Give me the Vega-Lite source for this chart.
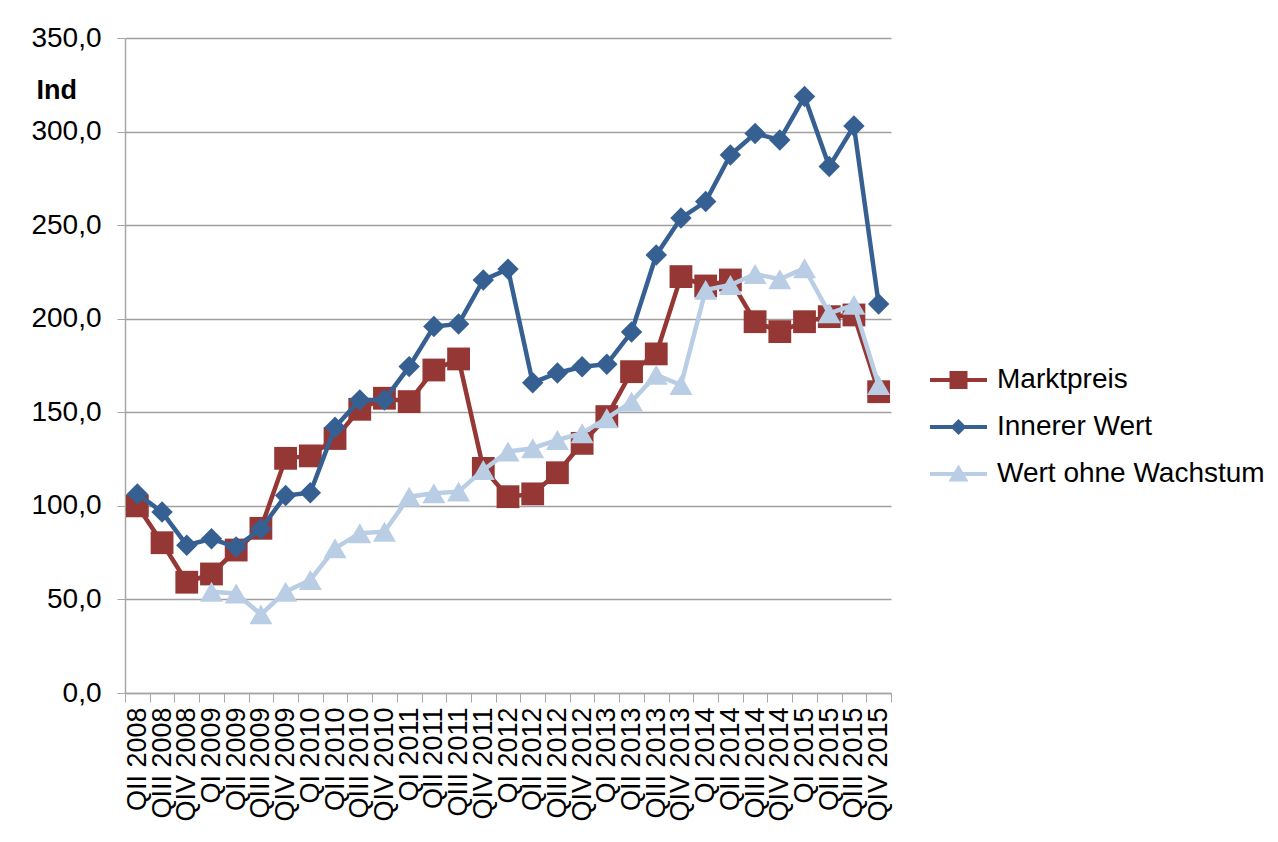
{
  "$schema": "https://vega.github.io/schema/vega-lite/v6.json",
  "width": 766,
  "height": 655,
  "autosize": "none",
  "padding": {"left": 125, "top": 38, "right": 387, "bottom": 149},
  "background": "white",
  "config": {
    "view": {"stroke": null},
    "font": "Liberation Sans",
    "legend": {
      "orient": "none",
      "legendX": 838,
      "legendY": 328,
      "padding": 0,
      "labelFont": "Liberation Sans",
      "labelFontSize": 28,
      "labelColor": "#000000",
      "labelOffset": 6,
      "labelLimit": 0,
      "symbolSize": 400,
      "rowPadding": 19
    }
  },
  "data": {
    "values": [
      {"q": "QII 2008", "s": "Marktpreis", "v": 100},
      {"q": "QIII 2008", "s": "Marktpreis", "v": 80.3},
      {"q": "QIV 2008", "s": "Marktpreis", "v": 59.2},
      {"q": "QI 2009", "s": "Marktpreis", "v": 63.6},
      {"q": "QII 2009", "s": "Marktpreis", "v": 76.4},
      {"q": "QIII 2009", "s": "Marktpreis", "v": 88},
      {"q": "QIV 2009", "s": "Marktpreis", "v": 125.4},
      {"q": "QI 2010", "s": "Marktpreis", "v": 126.7},
      {"q": "QII 2010", "s": "Marktpreis", "v": 136},
      {"q": "QIII 2010", "s": "Marktpreis", "v": 151.6},
      {"q": "QIV 2010", "s": "Marktpreis", "v": 157.5},
      {"q": "QI 2011", "s": "Marktpreis", "v": 155.7},
      {"q": "QII 2011", "s": "Marktpreis", "v": 172.6},
      {"q": "QIII 2011", "s": "Marktpreis", "v": 178.5},
      {"q": "QIV 2011", "s": "Marktpreis", "v": 120},
      {"q": "QI 2012", "s": "Marktpreis", "v": 104.9},
      {"q": "QII 2012", "s": "Marktpreis", "v": 106.4},
      {"q": "QIII 2012", "s": "Marktpreis", "v": 117.7},
      {"q": "QIV 2012", "s": "Marktpreis", "v": 133.4},
      {"q": "QI 2013", "s": "Marktpreis", "v": 147.7},
      {"q": "QII 2013", "s": "Marktpreis", "v": 171.7},
      {"q": "QIII 2013", "s": "Marktpreis", "v": 181.2},
      {"q": "QIV 2013", "s": "Marktpreis", "v": 222.5},
      {"q": "QI 2014", "s": "Marktpreis", "v": 217.5},
      {"q": "QII 2014", "s": "Marktpreis", "v": 220.7},
      {"q": "QIII 2014", "s": "Marktpreis", "v": 198.4},
      {"q": "QIV 2014", "s": "Marktpreis", "v": 193.1},
      {"q": "QI 2015", "s": "Marktpreis", "v": 198.4},
      {"q": "QII 2015", "s": "Marktpreis", "v": 201.1},
      {"q": "QIII 2015", "s": "Marktpreis", "v": 202},
      {"q": "QIV 2015", "s": "Marktpreis", "v": 161},
      {"q": "QII 2008", "s": "Innerer Wert", "v": 106.4},
      {"q": "QIII 2008", "s": "Innerer Wert", "v": 96.7},
      {"q": "QIV 2008", "s": "Innerer Wert", "v": 79},
      {"q": "QI 2009", "s": "Innerer Wert", "v": 82.4},
      {"q": "QII 2009", "s": "Innerer Wert", "v": 78},
      {"q": "QIII 2009", "s": "Innerer Wert", "v": 87.7},
      {"q": "QIV 2009", "s": "Innerer Wert", "v": 105.5},
      {"q": "QI 2010", "s": "Innerer Wert", "v": 107},
      {"q": "QII 2010", "s": "Innerer Wert", "v": 142},
      {"q": "QIII 2010", "s": "Innerer Wert", "v": 156.6},
      {"q": "QIV 2010", "s": "Innerer Wert", "v": 156.6},
      {"q": "QI 2011", "s": "Innerer Wert", "v": 174.4},
      {"q": "QII 2011", "s": "Innerer Wert", "v": 195.8},
      {"q": "QIII 2011", "s": "Innerer Wert", "v": 197.2},
      {"q": "QIV 2011", "s": "Innerer Wert", "v": 220.7},
      {"q": "QI 2012", "s": "Innerer Wert", "v": 226.5},
      {"q": "QII 2012", "s": "Innerer Wert", "v": 165.8},
      {"q": "QIII 2012", "s": "Innerer Wert", "v": 171},
      {"q": "QIV 2012", "s": "Innerer Wert", "v": 174.3},
      {"q": "QI 2013", "s": "Innerer Wert", "v": 175.7},
      {"q": "QII 2013", "s": "Innerer Wert", "v": 192.9},
      {"q": "QIII 2013", "s": "Innerer Wert", "v": 234},
      {"q": "QIV 2013", "s": "Innerer Wert", "v": 253.8},
      {"q": "QI 2014", "s": "Innerer Wert", "v": 262.6},
      {"q": "QII 2014", "s": "Innerer Wert", "v": 287.5},
      {"q": "QIII 2014", "s": "Innerer Wert", "v": 299},
      {"q": "QIV 2014", "s": "Innerer Wert", "v": 295.5},
      {"q": "QI 2015", "s": "Innerer Wert", "v": 318.7},
      {"q": "QII 2015", "s": "Innerer Wert", "v": 281.3},
      {"q": "QIII 2015", "s": "Innerer Wert", "v": 303},
      {"q": "QIV 2015", "s": "Innerer Wert", "v": 207.9},
      {"q": "QI 2009", "s": "Wert ohne Wachstum", "v": 54.1},
      {"q": "QII 2009", "s": "Wert ohne Wachstum", "v": 53.2},
      {"q": "QIII 2009", "s": "Wert ohne Wachstum", "v": 42},
      {"q": "QIV 2009", "s": "Wert ohne Wachstum", "v": 54.1},
      {"q": "QI 2010", "s": "Wert ohne Wachstum", "v": 60.4},
      {"q": "QII 2010", "s": "Wert ohne Wachstum", "v": 77.3},
      {"q": "QIII 2010", "s": "Wert ohne Wachstum", "v": 85.4},
      {"q": "QIV 2010", "s": "Wert ohne Wachstum", "v": 86.2},
      {"q": "QI 2011", "s": "Wert ohne Wachstum", "v": 104.9},
      {"q": "QII 2011", "s": "Wert ohne Wachstum", "v": 106.7},
      {"q": "QIII 2011", "s": "Wert ohne Wachstum", "v": 107.6},
      {"q": "QIV 2011", "s": "Wert ohne Wachstum", "v": 119.2},
      {"q": "QI 2012", "s": "Wert ohne Wachstum", "v": 129},
      {"q": "QII 2012", "s": "Wert ohne Wachstum", "v": 130.8},
      {"q": "QIII 2012", "s": "Wert ohne Wachstum", "v": 135.2},
      {"q": "QIV 2012", "s": "Wert ohne Wachstum", "v": 138.8},
      {"q": "QI 2013", "s": "Wert ohne Wachstum", "v": 146.8},
      {"q": "QII 2013", "s": "Wert ohne Wachstum", "v": 155.7},
      {"q": "QIII 2013", "s": "Wert ohne Wachstum", "v": 170},
      {"q": "QIV 2013", "s": "Wert ohne Wachstum", "v": 164.6},
      {"q": "QI 2014", "s": "Wert ohne Wachstum", "v": 215.4},
      {"q": "QII 2014", "s": "Wert ohne Wachstum", "v": 218},
      {"q": "QIII 2014", "s": "Wert ohne Wachstum", "v": 223.9},
      {"q": "QIV 2014", "s": "Wert ohne Wachstum", "v": 221.1},
      {"q": "QI 2015", "s": "Wert ohne Wachstum", "v": 227},
      {"q": "QII 2015", "s": "Wert ohne Wachstum", "v": 202.9},
      {"q": "QIII 2015", "s": "Wert ohne Wachstum", "v": 207.4},
      {"q": "QIV 2015", "s": "Wert ohne Wachstum", "v": 164.6}
    ]
  },
  "encoding": {
    "x": {
      "field": "q",
      "type": "ordinal",
      "sort": ["QII 2008","QIII 2008","QIV 2008","QI 2009","QII 2009","QIII 2009","QIV 2009","QI 2010","QII 2010","QIII 2010","QIV 2010","QI 2011","QII 2011","QIII 2011","QIV 2011","QI 2012","QII 2012","QIII 2012","QIV 2012","QI 2013","QII 2013","QIII 2013","QIV 2013","QI 2014","QII 2014","QIII 2014","QIV 2014","QI 2015","QII 2015","QIII 2015","QIV 2015"],
      "scale": {"type": "band", "paddingInner": 0, "paddingOuter": 0},
      "bandPosition": 0.5,
      "axis": {
        "title": null,
        "labelAngle": 270,
        "labelAlign": "right",
        "labelBaseline": "middle",
        "labelFont": "Liberation Sans",
        "labelFontSize": 27,
        "labelColor": "#000000",
        "labelPadding": 5,
        "labelOverlap": false,
        "tickBand": "extent",
        "tickColor": "#a6a6a6",
        "tickSize": 9,
        "domainColor": "#a6a6a6",
        "domainWidth": 1.5,
        "grid": false
      }
    },
    "y": {
      "field": "v",
      "type": "quantitative",
      "scale": {"domain": [0, 350], "nice": false, "zero": true},
      "axis": {
        "values": [0, 50, 100, 150, 200, 250, 300, 350],
        "labelExpr": "replace(format(datum.value, '.1f'), '.', ',')",
        "labelFont": "Liberation Sans",
        "labelFontSize": 28,
        "labelColor": "#000000",
        "labelPadding": 16,
        "tickSize": 8,
        "tickColor": "#a6a6a6",
        "domainColor": "#a6a6a6",
        "domainWidth": 1.5,
        "grid": true,
        "gridColor": "#a0a0a0",
        "gridWidth": 1.5,
        "title": "Ind",
        "titleAngle": 0,
        "titleFont": "Liberation Sans",
        "titleFontSize": 27,
        "titleFontWeight": "bold",
        "titleColor": "#000000",
        "titleAlign": "left",
        "titleBaseline": "alphabetic",
        "titleX": -89,
        "titleY": 60
      }
    },
    "color": {
      "field": "s", "type": "nominal",
      "scale": {"domain": ["Marktpreis", "Innerer Wert", "Wert ohne Wachstum"], "range": ["#953735", "#376092", "#B9CDE5"]},
      "legend": {
        "title": null,
        "encode": {
          "symbols": {
            "update": {
              "shape": {"signal": "datum.value === 'Marktpreis' ? 'M-4.7,-0.2H1V0.2H-4.7Z M-2.75,-0.9H-0.95V0.9H-2.75Z' : datum.value === 'Innerer Wert' ? 'M-4.7,-0.2H1V0.2H-4.7Z M-1.85,-0.8L-1.05,0L-1.85,0.8L-2.65,0Z' : 'M-4.7,-0.2H1V0.2H-4.7Z M-1.85,-0.95L-0.85,0.75L-2.85,0.75Z'"},
              "size": {"value": 400},
              "fill": {"scale": "color", "field": "value"},
              "strokeWidth": {"value": 0},
              "opacity": {"value": 1}
            }
          }
        }
      }
    }
  },
  "layer": [
    {
      "transform": [{"filter": "datum.s === 'Marktpreis'"}],
      "mark": {"type": "line", "strokeWidth": 4.5}
    },
    {
      "transform": [{"filter": "datum.s === 'Marktpreis'"}],
      "mark": {"type": "point", "shape": "square", "filled": true, "opacity": 1, "size": 520, "strokeWidth": 0}
    },
    {
      "transform": [{"filter": "datum.s === 'Innerer Wert'"}],
      "mark": {"type": "line", "strokeWidth": 4.5}
    },
    {
      "transform": [{"filter": "datum.s === 'Innerer Wert'"}],
      "mark": {"type": "point", "shape": "diamond", "filled": true, "opacity": 1, "size": 460, "strokeWidth": 0}
    },
    {
      "transform": [{"filter": "datum.s === 'Wert ohne Wachstum'"}],
      "mark": {"type": "line", "strokeWidth": 4.5}
    },
    {
      "transform": [{"filter": "datum.s === 'Wert ohne Wachstum'"}],
      "mark": {"type": "point", "shape": "triangle-up", "filled": true, "opacity": 1, "size": 530, "strokeWidth": 0}
    }
  ]
}
